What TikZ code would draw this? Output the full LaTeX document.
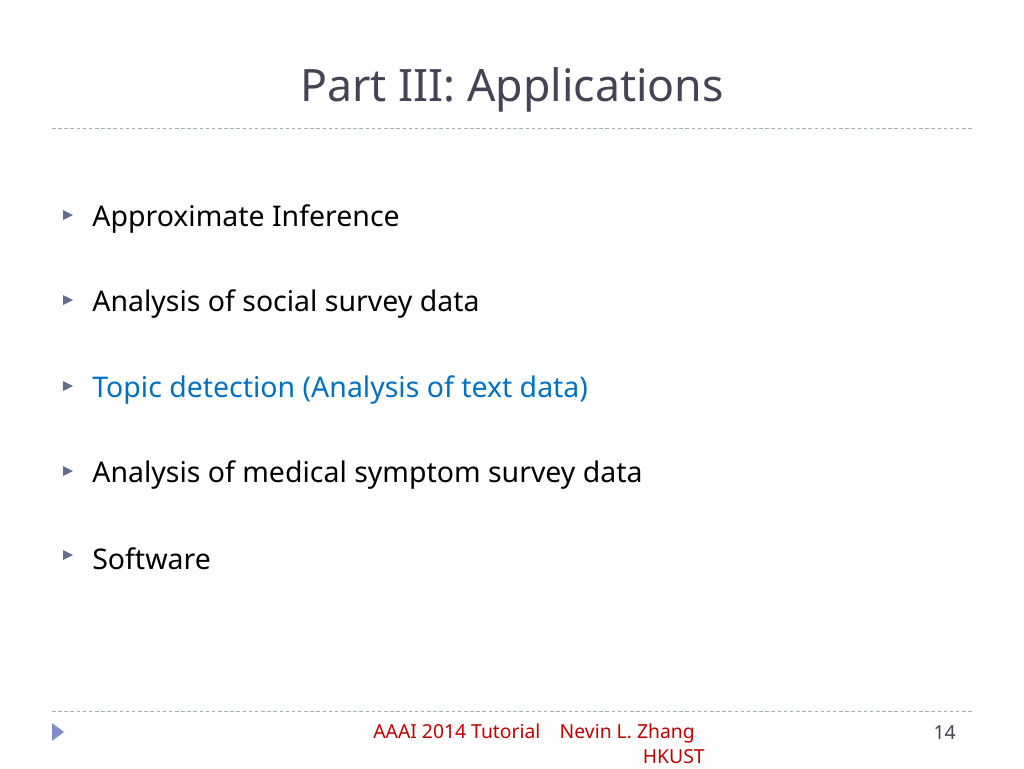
\documentclass[tikz,border=0pt]{standalone}
\usepackage{fontspec}
\setmainfont{Noto Sans}
\usetikzlibrary{positioning}
\definecolor{titlegray}{RGB}{68,68,84}
\definecolor{linkblue}{RGB}{0,112,192}
\definecolor{footred}{RGB}{192,0,0}
\definecolor{rulegray}{RGB}{160,176,190}
\definecolor{bulletgray}{RGB}{100,110,140}
\tikzset{item/.style={anchor=west,inner sep=0pt,font=\fontsize{16.2}{18}\selectfont},
	bullet/.style={fill=bulletgray,draw=none},
	rule/.style={draw=rulegray,dashed,dash pattern=on 2pt off 1.5pt,line width=0.5pt},
	foot/.style={inner sep=0pt,text=footred,font=\fontsize{11}{13}\selectfont}}
\begin{document}
\begin{tikzpicture}[x=0.02cm,y=-0.02cm]
	\useasboundingbox (0,0) rectangle (1024,768);
	\node [text=titlegray,font=\fontsize{25.4}{30}\selectfont] (title) at (512,90) {Part III: Applications};
	\draw [rule] (52,128) -- (972,128);
	% bullets
	\foreach \y/\txt/\col [count=\i] in {219/Approximate Inference/black,
		304/Analysis of social survey data/black,
		390/Topic detection (Analysis of text data)/linkblue,
		475/Analysis of medical symptom survey data/black,
		559/Software/black}{
		\fill [bullet] (63,\y-9) -- (73,\y-4) -- (63,\y+1) -- cycle;
		\node [item,text=\col] (b\i) at (92,\y) {\txt};
	}
	\draw [rule] (52,711) -- (972,711);
	\fill [fill=rulegray!80!blue] (52,723) -- (64,732) -- (52,741) -- cycle;
	\node [foot,anchor=west] (talk) at (373,733) {AAAI 2014 Tutorial\quad Nevin L. Zhang};
	\node [foot,anchor=east] (inst) at (705,757) {HKUST};
	\node [foot,text=titlegray,anchor=east] (page) at (956,733) {14};
\end{tikzpicture}
\end{document}
